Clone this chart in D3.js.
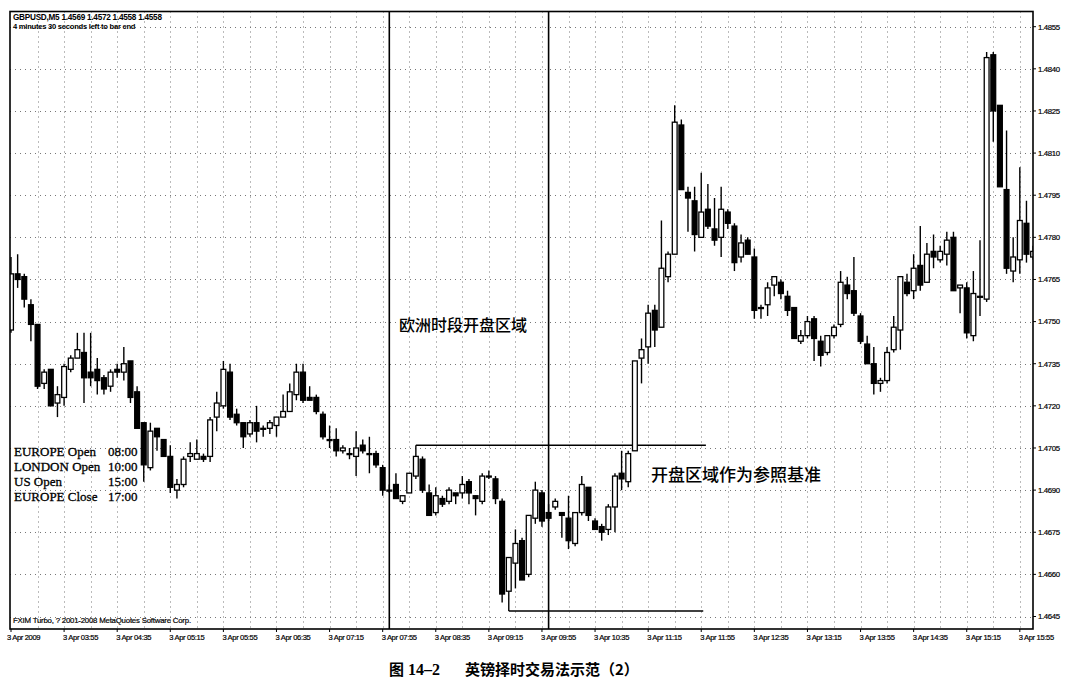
<!DOCTYPE html>
<html><head><meta charset="utf-8">
<script src="https://cdn.jsdelivr.net/npm/d3@7"></script>
<style>html,body{margin:0;padding:0;background:#fff}</style>
</head><body>
<svg id="chart" width="1080" height="682"></svg>
<script>
// ---- data (GBPUSD M5, 3 Apr 2009, first bar 03:15) ----
const openP = [1.4747,1.4767,1.4766,1.4756,1.4749,1.4728,1.4733,1.4721,1.4723,1.4733,
1.4737,1.4739,1.4732,1.4733,1.4730,1.4727,1.4733,1.4732,1.4736,1.4725,
1.4714,1.4698,1.4712,1.4708,1.4702,1.4690,1.4692,1.4702,1.4701,1.4702,
1.4702,1.4716,1.4720,1.4732,1.4717,1.4714,1.4710,1.4714,1.4712,1.4712,
1.4713,1.4716,1.4718,1.4724,1.4732,1.4723,1.4723,1.4717,1.4708,1.4708,
1.4704,1.4703,1.4702,1.4706,1.4703,1.4703,1.4698,1.4690,1.4692,1.4686,
1.4689,1.4695,1.4701,1.4689,1.4682,1.4687,1.4686,1.4689,1.4689,1.4693,
1.4688,1.4686,1.4695,1.4694,1.4686,1.4654,1.4664,1.4672,1.4660,1.4680,
1.4689,1.4682,1.4684,1.4682,1.4680,1.4671,1.4682,1.4691,1.4679,1.4677,
1.4676,1.4684,1.4696,1.4693,1.4704,1.4737,1.4741,1.4754,1.4748,1.4766,
1.4774,1.4820,1.4796,1.4793,1.4780,1.4790,1.4783,1.4780,1.4789,1.4784,
1.4773,1.4779,1.4773,1.4755,1.4756,1.4763,1.4764,1.4759,1.4755,1.4743,
1.4745,1.4751,1.4743,1.4739,1.4745,1.4749,1.4763,1.4761,1.4752,1.4742,
1.4735,1.4728,1.4729,1.4740,1.4747,1.4764,1.4761,1.4770,1.4764,1.4775,
1.4772,1.4774,1.4780,1.4762,1.4762,1.4745,1.4759,1.4758,1.4845,1.4827,
1.4797,1.4768,1.4772,1.4785,1.4773];
const highP = [1.4773,1.4774,1.4767,1.4758,1.4749,1.4733,1.4733,1.4727,1.4735,1.4738,
1.4746,1.4746,1.4746,1.4737,1.4731,1.4733,1.4735,1.4741,1.4736,1.4727,
1.4714,1.4714,1.4712,1.4708,1.4706,1.4694,1.4702,1.4707,1.4708,1.4703,
1.4716,1.4725,1.4736,1.4735,1.4719,1.4714,1.4715,1.4720,1.4713,1.4715,
1.4716,1.4724,1.4728,1.4735,1.4735,1.4727,1.4724,1.4718,1.4713,1.4712,
1.4706,1.4705,1.4711,1.4708,1.4709,1.4704,1.4699,1.4692,1.4696,1.4688,
1.4696,1.4706,1.4702,1.4692,1.4691,1.4688,1.4691,1.4689,1.4695,1.4694,
1.4688,1.4696,1.4697,1.4695,1.4687,1.4666,1.4676,1.4673,1.4681,1.4693,
1.4690,1.4685,1.4687,1.4682,1.4688,1.4682,1.4695,1.4691,1.4680,1.4678,
1.4685,1.4696,1.4704,1.4704,1.4736,1.4744,1.4756,1.4756,1.4786,1.4775,
1.4827,1.4822,1.4798,1.4798,1.4803,1.4799,1.4794,1.4798,1.4790,1.4785,
1.4781,1.4780,1.4776,1.4756,1.4764,1.4766,1.4765,1.4761,1.4755,1.4747,
1.4752,1.4752,1.4745,1.4745,1.4749,1.4768,1.4766,1.4773,1.4753,1.4745,
1.4741,1.4730,1.4741,1.4752,1.4766,1.4767,1.4774,1.4784,1.4778,1.4781,
1.4777,1.4782,1.4782,1.4763,1.4764,1.4768,1.4779,1.4846,1.4846,1.4827,
1.4818,1.4780,1.4805,1.4793,1.4777];
const lowP = [1.4746,1.4762,1.4755,1.4743,1.4726,1.4726,1.4720,1.4716,1.4720,1.4732,
1.4737,1.4721,1.4727,1.4724,1.4724,1.4725,1.4730,1.4729,1.4721,1.4712,
1.4693,1.4697,1.4704,1.4702,1.4689,1.4687,1.4691,1.4700,1.4701,1.4700,
1.4700,1.4711,1.4719,1.4715,1.4713,1.4705,1.4709,1.4707,1.4709,1.4710,
1.4709,1.4716,1.4718,1.4722,1.4721,1.4722,1.4717,1.4708,1.4705,1.4702,
1.4703,1.4701,1.4695,1.4703,1.4696,1.4698,1.4688,1.4689,1.4687,1.4685,
1.4689,1.4694,1.4689,1.4681,1.4681,1.4684,1.4685,1.4685,1.4687,1.4685,
1.4681,1.4685,1.4694,1.4685,1.4650,1.4647,1.4655,1.4658,1.4659,1.4678,
1.4677,1.4679,1.4683,1.4673,1.4669,1.4670,1.4681,1.4679,1.4676,1.4672,
1.4674,1.4675,1.4690,1.4691,1.4704,1.4728,1.4735,1.4741,1.4748,1.4764,
1.4774,1.4797,1.4782,1.4775,1.4780,1.4783,1.4777,1.4773,1.4783,1.4768,
1.4771,1.4774,1.4751,1.4751,1.4752,1.4759,1.4758,1.4752,1.4744,1.4742,
1.4744,1.4736,1.4734,1.4738,1.4744,1.4748,1.4758,1.4752,1.4742,1.4735,
1.4724,1.4725,1.4728,1.4739,1.4740,1.4759,1.4758,1.4761,1.4764,1.4769,
1.4771,1.4770,1.4761,1.4753,1.4744,1.4743,1.4752,1.4757,1.4814,1.4798,
1.4767,1.4764,1.4767,1.4771,1.4772];
const closeP = [1.4767,1.4765,1.4758,1.4749,1.4727,1.4732,1.4720,1.4724,1.4734,1.4737,
1.4740,1.4730,1.4730,1.4729,1.4726,1.4732,1.4732,1.4735,1.4723,1.4712,
1.4699,1.4711,1.4709,1.4702,1.4691,1.4692,1.4701,1.4703,1.4703,1.4701,
1.4715,1.4721,1.4733,1.4716,1.4714,1.4709,1.4714,1.4711,1.4712,1.4714,
1.4716,1.4718,1.4725,1.4732,1.4722,1.4722,1.4718,1.4709,1.4708,1.4704,
1.4705,1.4703,1.4705,1.4704,1.4703,1.4699,1.4690,1.4690,1.4687,1.4688,
1.4696,1.4702,1.4690,1.4681,1.4688,1.4685,1.4690,1.4688,1.4692,1.4689,
1.4687,1.4695,1.4695,1.4687,1.4653,1.4666,1.4671,1.4658,1.4681,1.4690,
1.4679,1.4680,1.4686,1.4681,1.4672,1.4682,1.4692,1.4681,1.4676,1.4675,
1.4684,1.4695,1.4694,1.4703,1.4736,1.4740,1.4753,1.4747,1.4769,1.4774,
1.4821,1.4797,1.4794,1.4781,1.4789,1.4784,1.4779,1.4790,1.4785,1.4771,
1.4778,1.4774,1.4754,1.4755,1.4762,1.4766,1.4760,1.4754,1.4744,1.4745,
1.4750,1.4744,1.4738,1.4745,1.4748,1.4764,1.4760,1.4753,1.4743,1.4735,
1.4728,1.4729,1.4739,1.4748,1.4766,1.4760,1.4769,1.4763,1.4774,1.4773,
1.4775,1.4779,1.4761,1.4763,1.4746,1.4760,1.4759,1.4844,1.4825,1.4798,
1.4769,1.4773,1.4786,1.4774,1.4775];

const timeTickIdx = [0,8,16,24,32,40,48,56,64,72,80,88,96,104,112,120,128,136,144,152];
const timeTickLabels = ["3 Apr 2009","3 Apr 03:55","3 Apr 04:35","3 Apr 05:15","3 Apr 05:55",
  "3 Apr 06:35","3 Apr 07:15","3 Apr 07:55","3 Apr 08:35","3 Apr 09:15","3 Apr 09:55",
  "3 Apr 10:35","3 Apr 11:15","3 Apr 11:55","3 Apr 12:35","3 Apr 13:15","3 Apr 13:55",
  "3 Apr 14:35","3 Apr 15:15","3 Apr 15:55"];
const priceTicks = [1.4645,1.4660,1.4675,1.4690,1.4705,1.4720,1.4735,1.4750,1.4765,1.4780,1.4795,1.4810,1.4825,1.4840,1.4855];
const sessionLineIdx = [57, 81];           // 08:00 Europe open, 10:00 London open
const rangeLevels = [1.4706, 1.4647];     // opening range high / low
const rangeStartIdx = [61, 75];
const rangeEndIdx = [104.7, 104.3];
const sessionNames = ["EUROPE Open","LONDON Open","US Open","EUROPE Close"];
const sessionTimes = ["08:00","10:00","15:00","17:00"];
const headerLines = ["GBPUSD,M5  1.4569 1.4572 1.4558 1.4558","4 minutes 30 seconds left to bar end"];
const footerText = "FXIM Turbo, ? 2001-2008 MetaQuotes Software Corp.";
const noteEurope = "欧洲时段开盘区域";
const noteRange = "开盘区域作为参照基准";
const figNo = "图 14–2";
const figTitle = "英镑择时交易法示范（2）";

// ---- layout ----
const svg = d3.select("#chart");
const P = {left:10, top:11.5, right:1033, bottom:629};
const x = d3.scaleLinear().domain([0,154]).range([11, 11+154*6.637]);
const y = d3.scaleLinear().domain([1.4645,1.4855]).range([616.5,26.7]);
const sans = "'Liberation Sans', Arial, sans-serif";
const cjk = "'Noto Sans CJK SC', sans-serif";

svg.append("rect").attr("width",1080).attr("height",682).attr("fill","#fff");
svg.append("defs").append("clipPath").attr("id","plot")
  .append("rect").attr("x",P.left).attr("y",P.top).attr("width",P.right-P.left).attr("height",P.bottom-P.top);

// grid
const grid = svg.append("g").attr("stroke","#777").attr("stroke-width",1).attr("stroke-dasharray","1,4");
grid.selectAll("line.h").data(priceTicks).join("line")
  .attr("x1",P.left).attr("x2",P.right)
  .attr("y1",d=>Math.round(y(d))+0.5).attr("y2",d=>Math.round(y(d))+0.5);
const vIdx = d3.range(4,155,4);
grid.selectAll("line.v").data(vIdx).join("line")
  .attr("y1",P.top).attr("y2",P.bottom)
  .attr("x1",d=>Math.round(x(d))+0.5).attr("x2",d=>Math.round(x(d))+0.5);

// session vertical lines
svg.append("g").selectAll("line").data(sessionLineIdx).join("line")
  .attr("x1",d=>x(d)).attr("x2",d=>x(d)).attr("y1",P.top).attr("y2",P.bottom)
  .attr("stroke","#000").attr("stroke-width",1.6);

// opening range lines
svg.append("g").selectAll("line").data(rangeLevels).join("line")
  .attr("x1",(d,i)=>x(rangeStartIdx[i])).attr("x2",(d,i)=>x(rangeEndIdx[i]))
  .attr("y1",d=>y(d)).attr("y2",d=>y(d))
  .attr("stroke","#000").attr("stroke-width",1.5);

// candles
const bars = openP.map((o,i)=>({i,o,h:highP[i],l:lowP[i],c:closeP[i]}));
const cg = svg.append("g").attr("clip-path","url(#plot)");
const bw = 4.8;
cg.selectAll("line.wick").data(bars).join("line")
  .attr("x1",d=>x(d.i)).attr("x2",d=>x(d.i))
  .attr("y1",d=>y(d.h)).attr("y2",d=>y(d.l))
  .attr("stroke","#000").attr("stroke-width",1.4);
cg.selectAll("rect.body").data(bars).join("rect")
  .attr("x",d=>x(d.i)-bw/2)
  .attr("y",d=>y(Math.max(d.o,d.c)))
  .attr("width",bw)
  .attr("height",d=>Math.max(1,Math.abs(y(d.o)-y(d.c))))
  .attr("fill",d=>d.c>=d.o?"#fff":"#000")
  .attr("stroke","#000").attr("stroke-width",1.3);

// frame
svg.append("rect").attr("x",P.left).attr("y",P.top).attr("width",P.right-P.left).attr("height",P.bottom-P.top)
  .attr("fill","none").attr("stroke","#000").attr("stroke-width",1.6);

// price axis
const pa = svg.append("g");
pa.selectAll("line").data(priceTicks).join("line")
  .attr("x1",P.right).attr("x2",P.right+3).attr("y1",d=>y(d)).attr("y2",d=>y(d)).attr("stroke","#000");
pa.selectAll("text").data(priceTicks).join("text")
  .attr("x",P.right+5).attr("y",d=>y(d)+2.8)
  .attr("font-family",sans).attr("font-size",7.8).attr("letter-spacing",-0.35).attr("fill","#000")
  .attr("stroke","#000").attr("stroke-width",0.2)
  .text(d=>d3.format(".4f")(d));

// time axis
const ta = svg.append("g");
ta.selectAll("line").data(timeTickIdx).join("line")
  .attr("x1",d=>x(d)).attr("x2",d=>x(d)).attr("y1",P.bottom).attr("y2",P.bottom+3).attr("stroke","#000");
ta.selectAll("text").data(timeTickIdx).join("text")
  .attr("x",(d,i)=> i===0 ? x(d)-4 : x(d)-1).attr("y",P.bottom+11)
  .attr("font-family",sans).attr("font-size",7.6).attr("letter-spacing",-0.35).attr("fill","#000")
  .attr("stroke","#000").attr("stroke-width",0.2)
  .text((d,i)=>timeTickLabels[i]);

// header & footer text
svg.selectAll("text.hdr").data(headerLines).join("text")
  .attr("x",13).attr("y",(d,i)=>20+i*9)
  .attr("font-family",sans).attr("font-size",(d,i)=>i===0?8.2:7.6).attr("letter-spacing",-0.25)
  .attr("font-weight","bold").attr("fill","#000").text(d=>d);
svg.append("text").attr("x",13).attr("y",623)
  .attr("font-family",sans).attr("font-size",7.8).attr("letter-spacing",-0.2).attr("fill","#000")
  .attr("stroke","#000").attr("stroke-width",0.2).text(footerText);

// session legend
const lg = svg.append("g").attr("font-family","'Liberation Serif','Times New Roman',serif").attr("font-size",13).attr("fill","#000")
  .attr("stroke","#000").attr("stroke-width",0.3);
lg.selectAll("text.n").data(sessionNames).join("text").attr("x",14).attr("y",(d,i)=>456+i*15).text(d=>d);
lg.selectAll("text.t").data(sessionTimes).join("text").attr("x",108).attr("y",(d,i)=>456+i*15).text(d=>d);

// Chinese notes
svg.append("text").attr("x",399).attr("y",331).attr("font-family",cjk).attr("font-size",16).attr("font-weight",500).attr("fill","#000").text(noteEurope);
svg.append("text").attr("x",651).attr("y",481).attr("font-family",cjk).attr("font-size",17).attr("font-weight",500).attr("fill","#000").text(noteRange);

// figure title
const tt = svg.append("text").attr("y",675).attr("font-weight","bold").attr("fill","#000");
tt.append("tspan").attr("x",389).attr("font-family",cjk).attr("font-size",15).text(figNo.split(" ")[0]);
tt.append("tspan").attr("dx",4).attr("font-family","'Liberation Serif',serif").attr("font-size",16).text(figNo.split(" ")[1]);
tt.append("tspan").attr("x",465).attr("font-family",cjk).attr("font-size",15).text(figTitle);
</script>
</body></html>
